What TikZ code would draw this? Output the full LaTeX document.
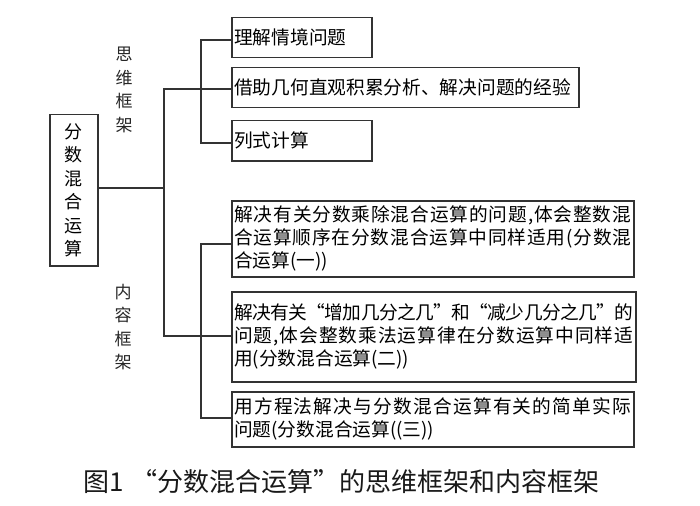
\documentclass[tikz,border=0pt]{standalone}
\usepackage{fontspec}
\newfontfamily\cjk{Noto Sans CJK SC}
\makeatletter
\def\jl#1{\leavevmode\hbox to\linewidth{\jlA#1\jlEnd}}
\def\jlA#1{#1\futurelet\jlnext\jlB}
\def\jlB{\ifx\jlnext\jlEnd\expandafter\jlC\else\hskip 0pt plus 1fil minus 1pt\relax\expandafter\jlA\fi}
\def\jlC\jlEnd{}
\makeatother
\begin{document}
\begin{tikzpicture}[x=1pt,y=-1pt,
  ln/.style={draw=black!80,line width=1.5pt,line join=miter},
  bx/.style={ln,rectangle,anchor=north west,inner xsep=2.5pt,inner ysep=0pt,
    font=\cjk\fontsize{18.7}{23}\selectfont,align=left},
  vlab/.style={font=\cjk\fontsize{17}{23.5}\selectfont,align=center,inner sep=0pt,text=black!85},
  captxt/.style={font=\cjk\fontsize{26}{30}\selectfont,anchor=west,inner sep=0pt,text=black!90}]
\useasboundingbox (0,0) rectangle (700,505);

\node[ln,rectangle,anchor=north west,minimum width=48pt,minimum height=151pt,inner sep=0pt,
  align=center,font=\cjk\fontsize{18}{23.4}\selectfont] (L) at (49,114) {分\\数\\混\\合\\运\\算};

\node[vlab] (t1) at (124,90) {思\\维\\框\\架};
\node[vlab] (t2) at (123,327) {内\\容\\框\\架};

\node[bx,minimum width=140pt,minimum height=40pt,text width=135pt] (b1) at (231,17) {理解情境问题};
\node[bx,minimum width=347pt,minimum height=40pt,text width=342pt] (b2) at (231,67) {借助几何直观积累分析、解决问题的经验};
\node[bx,minimum width=140pt,minimum height=40pt,text width=135pt] (b3) at (231,120) {列式计算};
\node[bx,minimum width=402pt,minimum height=76pt,text width=397pt] (b4) at (231,200)
  {\jl{解决有关分数乘除混合运算的问题,体会整数混}\\\jl{合运算顺序在分数混合运算中同样适用(分数混}\\合运算(一))};
\node[bx,minimum width=404pt,minimum height=90pt,text width=399pt] (b5) at (231,291)
  {\jl{解决有关“增加几分之几”和“减少几分之几”的}\\\jl{问题,体会整数乘法运算律在分数运算中同样适}\\用(分数混合运算(二))};
\node[bx,minimum width=402pt,minimum height=55pt,text width=397pt] (b6) at (231,391)
  {\jl{用方程法解决与分数混合运算有关的简单实际}\\问题(分数混合运算((三))};

\coordinate (tTop) at (164,89);
\coordinate (tBot) at (164,336);
\coordinate (tMid) at (164,188);
\coordinate (uTop) at (201,40);
\coordinate (uBot) at (201,143);
\coordinate (lTop) at (201,244);
\coordinate (lBot) at (201,418);

\draw[ln] (tMid -| L.east) -- (tMid);
\draw[ln] (tTop -| b2.west) -- (tTop) -- (tBot) -- (tBot -| b5.west);
\draw[ln] (uTop -| b1.west) -- (uTop) -- (uBot) -- (uBot -| b3.west);
\draw[ln] (lTop -| b4.west) -- (lTop) -- (lBot) -- (lBot -| b6.west);

\node[captxt] (c) at (83,482) {图1\hspace{8pt}“分数混合运算”的思维框架和内容框架};
\end{tikzpicture}
\end{document}
